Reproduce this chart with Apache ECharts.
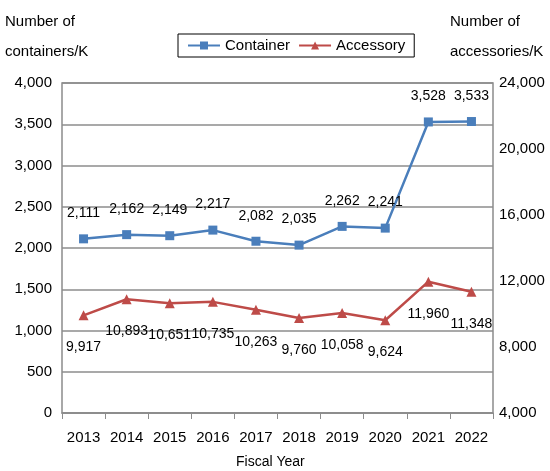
<!DOCTYPE html>
<html>
<head>
<meta charset="utf-8">
<script src="https://cdn.jsdelivr.net/npm/echarts@6/dist/echarts.min.js"></script>
<style>
html,body{margin:0;padding:0;background:#fff;}
#chart{width:550px;height:471px;}
</style>
</head>
<body>
<div id="chart"></div>
<script>
// Fiscal years and yearly counts (thousands)
var years = ['2013','2014','2015','2016','2017','2018','2019','2020','2021','2022'];
var containers = [2111, 2162, 2149, 2217, 2082, 2035, 2262, 2241, 3528, 3533];
var accessories = [9917, 10893, 10651, 10735, 10263, 9760, 10058, 9624, 11960, 11348];

var FONT = '"Liberation Sans", Arial, sans-serif';
var fmt = function (v) { return Number(v).toLocaleString('en-US'); };

var chart = echarts.init(document.getElementById('chart'), null, { renderer: 'canvas' });
chart.setOption({
  animation: false,
  backgroundColor: '#ffffff',
  textStyle: { fontFamily: FONT },
  graphic: [
    { type: 'text', left: 5, top: 7, style: { text: 'Number of\ncontainers/K', font: '15px ' + FONT, fill: '#000', lineHeight: 30 } },
    { type: 'text', left: 450, top: 7, style: { text: 'Number of\naccessories/K', font: '15px ' + FONT, fill: '#000', lineHeight: 30 } },
    { type: 'text', left: 236, top: 455, style: { text: 'Fiscal Year', font: '14px ' + FONT, fill: '#000' } }
  ],
  legend: {
    top: 34, left: 178,
    padding: [4, 9, 4, 9],
    borderColor: '#000', borderWidth: 1,
    itemGap: 8,
    itemWidth: 32, itemHeight: 10,
    textStyle: { fontSize: 15, color: '#000', fontFamily: FONT },
    data: ['Container', 'Accessory']
  },
  grid: { left: 62, right: 57, top: 83, bottom: 58, show: true, borderColor: '#8c8c8c', borderWidth: 1.5 },
  xAxis: {
    type: 'category',
    data: years,
    boundaryGap: true,
    axisLine: { lineStyle: { color: '#8c8c8c', width: 1.5 } },
    axisTick: { show: true, length: 6, interval: 0, lineStyle: { color: '#8c8c8c' } },
    axisLabel: { fontSize: 15, color: '#000', margin: 17, interval: 0, fontFamily: FONT }
  },
  yAxis: [
    {
      type: 'value', min: 0, max: 4000, interval: 500,
      axisLine: { show: false }, axisTick: { show: false },
      splitLine: { lineStyle: { color: '#8c8c8c', width: 1.5 } },
      axisLabel: { fontSize: 15, color: '#000', margin: 10, formatter: fmt, fontFamily: FONT }
    },
    {
      type: 'value', min: 4000, max: 24000, interval: 4000,
      axisLine: { show: false }, axisTick: { show: false },
      splitLine: { show: false },
      axisLabel: { fontSize: 15, color: '#000', margin: 6, formatter: fmt, fontFamily: FONT }
    }
  ],
  series: [
    {
      name: 'Container', type: 'line', yAxisIndex: 0,
      data: containers,
      symbol: 'rect', symbolSize: 9,
      lineStyle: { color: '#4a7ebb', width: 2.5 },
      itemStyle: { color: '#4a7ebb' },
      label: { show: true, position: 'top', distance: 14, fontSize: 14, color: '#000', formatter: function (p) { return fmt(p.value); } }
    },
    {
      name: 'Accessory', type: 'line', yAxisIndex: 1,
      data: accessories,
      symbol: 'triangle', symbolSize: 10,
      lineStyle: { color: '#be4b48', width: 2.5 },
      itemStyle: { color: '#be4b48' },
      label: { show: true, position: 'bottom', distance: 20, fontSize: 14, color: '#000', formatter: function (p) { return fmt(p.value); } }
    }
  ]
});
</script>
</body>
</html>
